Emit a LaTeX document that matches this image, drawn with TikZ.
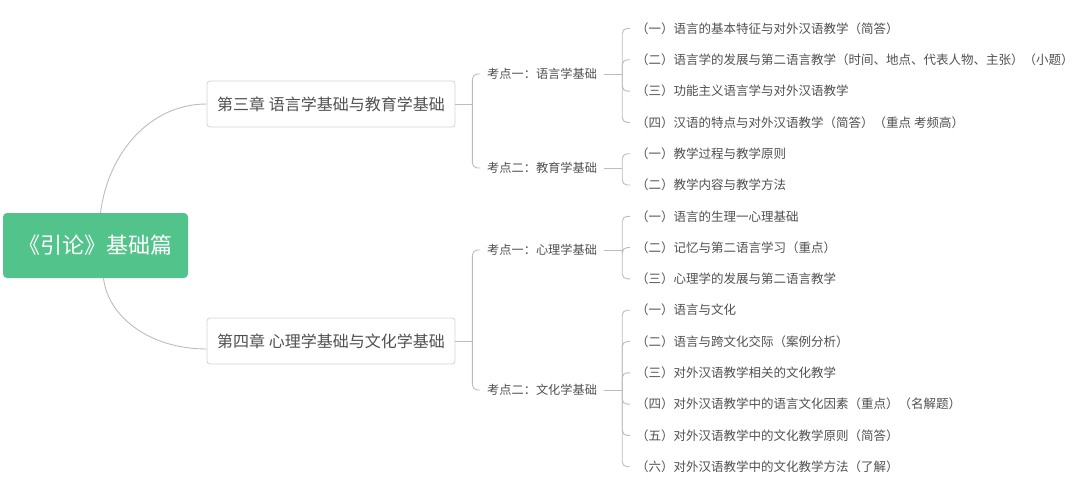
\documentclass[tikz,border=0pt]{standalone}
\usepackage{fontspec}
\newfontfamily\cjk{Noto Sans CJK SC}
\usepackage{tikz}
\usetikzlibrary{calc}
\usepackage{xcolor}
\definecolor{rootgreen}{RGB}{82,195,138}
\definecolor{txtgray}{RGB}{80,80,80}
\definecolor{linegray}{RGB}{188,188,188}
\definecolor{boxgray}{RGB}{212,212,212}

\begin{document}
\begin{tikzpicture}[x=1pt,y=-1pt,
        rootbox/.style={rectangle,rounded corners=4pt,fill=rootgreen,text=white,
            font=\cjk\fontsize{22}{26}\selectfont,minimum width=185pt,minimum height=65pt},
        chapbox/.style={rectangle,rounded corners=3pt,draw=boxgray,line width=0.8pt,fill=white,
            text=txtgray,font=\cjk\fontsize{16}{19}\selectfont,minimum width=248pt,minimum height=46pt},
        pointtext/.style={anchor=west,inner xsep=7pt,inner ysep=2pt,text=txtgray,
            font=\cjk\fontsize{12.2}{14}\selectfont},
        itemtext/.style={anchor=west,inner xsep=6pt,inner ysep=2pt,text=txtgray,
            font=\cjk\fontsize{12.5}{14}\selectfont},
        link/.style={draw=linegray,line width=0.9pt},
        brace/.style={link,rounded corners=5pt}]
    \useasboundingbox (0,0) rectangle (1080,487);

    % Root
    \node[rootbox] (root) at (95.5,245.5) {《引论》基础篇};

    % Chapters
    \node[chapbox] (ch1) at (331,104) {第三章 语言学基础与教育学基础};
    \node[chapbox] (ch2) at (331,341) {第四章 心理学基础与文化学基础};
    \draw[link] ([xshift=5pt]root.north) .. controls (108,153) and (150,104) .. (ch1.west);
    \draw[link] ([xshift=8pt]root.south) .. controls (108,317) and (150,349) .. ([yshift=-8pt]ch2.west);

    % Key points
    \node[pointtext] (pt1) at (480,74) {考点一：语言学基础};
    \node[pointtext] (pt2) at (480,168) {考点二：教育学基础};
    \node[pointtext] (pt3) at (480,250) {考点一：心理学基础};
    \node[pointtext] (pt4) at (480,390) {考点二：文化学基础};

    \coordinate (c1) at ($(ch1.east)+(17,0)$);
    \coordinate (c2) at ($(ch2.east)+(17,0)$);
    \draw[link] (ch1.east) -- (c1);
    \draw[link] (ch2.east) -- (c2);
    \foreach \p in {1,2}
    \draw[brace] (c1) |- (pt\p.west);
    \foreach \p in {3,4}
    \draw[brace] (c2) |- (pt\p.west);

    % Items
    \foreach \txt [count=\k] in {
        {（一）语言的基本特征与对外汉语教学（简答）},
        {（二）语言学的发展与第二语言教学（时间、地点、代表人物、主张）（小题）},
        {（三）功能主义语言学与对外汉语教学},
        {（四）汉语的特点与对外汉语教学（简答）（重点 考频高）},
        {（一）教学过程与教学原则},
        {（二）教学内容与教学方法},
        {（一）语言的生理一心理基础},
        {（二）记忆与第二语言学习（重点）},
        {（三）心理学的发展与第二语言教学},
        {（一）语言与文化},
        {（二）语言与跨文化交际（案例分析）},
        {（三）对外汉语教学相关的文化教学},
        {（四）对外汉语教学中的语言文化因素（重点）（名解题）},
        {（五）对外汉语教学中的文化教学原则（简答）},
        {（六）对外汉语教学中的文化教学方法（了解）}}
    {
    \node[itemtext] (item\k) at (630,{28.5+31.3*(\k-1)}) {\txt};
    }

    % Braces to items
    \foreach \p in {1,...,4}
    {
    \coordinate (b\p) at ($(pt\p.east)+(18,0)$);
    \draw[link] (pt\p.east) -- (b\p);
    }
    \foreach \k in {1,...,4}
    \draw[brace] (b1) |- (item\k.west);
    \foreach \k in {5,6}
    \draw[brace] (b2) |- (item\k.west);
    \foreach \k in {7,8,9}
    \draw[brace] (b3) |- (item\k.west);
    \foreach \k in {10,...,15}
    \draw[brace] (b4) |- (item\k.west);

\end{tikzpicture}
\end{document}
